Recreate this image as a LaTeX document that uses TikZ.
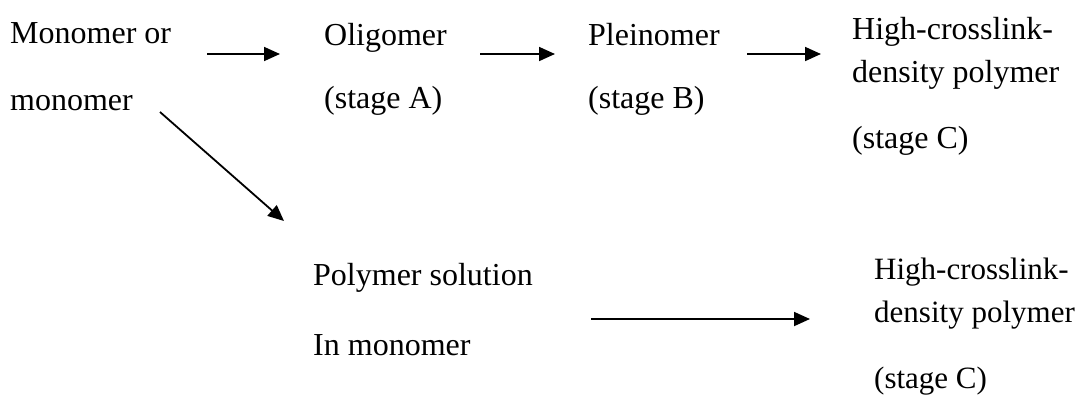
\documentclass[tikz,border=0pt]{standalone}
\usepackage{fontspec}
\setmainfont{Liberation Serif}
\usetikzlibrary{arrows.meta}
\begin{document}
\begin{tikzpicture}[x=1pt,y=-1pt,
  lbl/.style={anchor=base west,inner sep=0pt,font=\fontsize{32}{38}\selectfont},
  lbls/.style={anchor=base west,inner sep=0pt,font=\fontsize{31}{37}\selectfont},
  arr/.style={line width=1.8pt,-{Triangle[length=16pt,width=14pt]}}]
\useasboundingbox (0,0) rectangle (1077,394);
% row 1
\node[lbl] (m1) at (10,43) {Monomer or};
\node[lbl] (m2) at (10,110) {monomer};
\node[lbl] (o1) at (324,45) {Oligomer};
\node[lbl] (o2) at (324,108) {(stage A)};
\node[lbl] (p1) at (588,45) {Pleinomer};
\node[lbl] (p2) at (588,108) {(stage B)};
\node[lbl] (h1) at (852,39) {High-crosslink-};
\node[lbl] (h2) at (852,82) {density polymer};
\node[lbl] (h3) at (852,148) {(stage C)};
% row 2
\node[lbl] (s1) at (313,285) {Polymer solution};
\node[lbl] (s2) at (313,355) {In monomer};
\node[lbls] (k1) at (874,279) {High-crosslink-};
\node[lbls] (k2) at (874,322) {density polymer};
\node[lbls] (k3) at (874,388) {(stage C)};
% arrow ends
\coordinate (a1s) at (207,54);  \coordinate (a1e) at (280,54);
\coordinate (a2s) at (480,54);  \coordinate (a2e) at (555,54);
\coordinate (a3s) at (747,54);  \coordinate (a3e) at (821,54);
\coordinate (dgs) at (160,112); \coordinate (dge) at (284,221);
\coordinate (a4s) at (591,319); \coordinate (a4e) at (810,319);
\draw[arr] (a1s) -- (a1e);
\draw[arr] (a2s) -- (a2e);
\draw[arr] (a3s) -- (a3e);
\draw[arr] (dgs) -- (dge);
\draw[arr] (a4s) -- (a4e);
\end{tikzpicture}
\end{document}
